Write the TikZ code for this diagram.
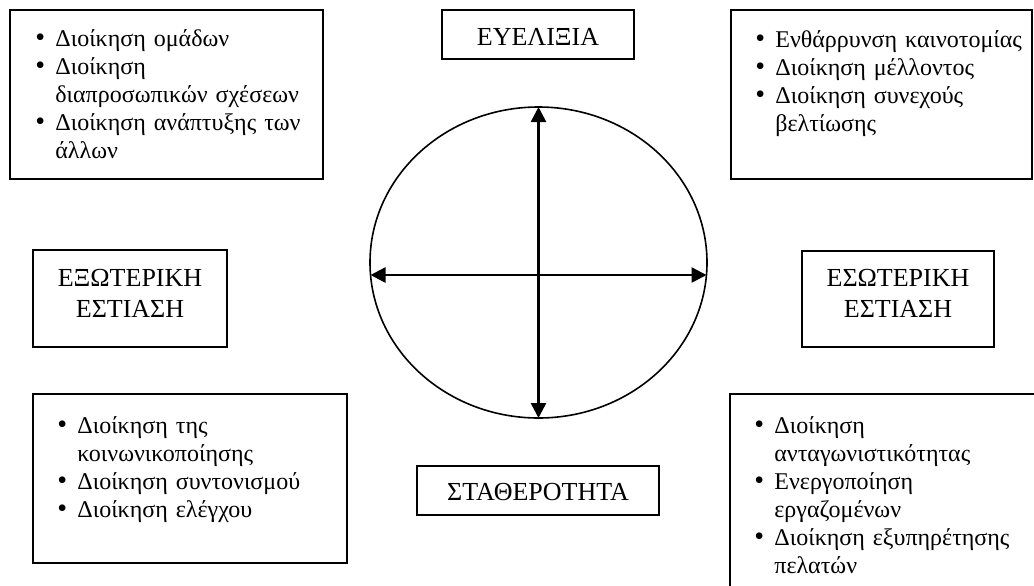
\documentclass[tikz,border=0pt]{standalone}
\usepackage{fontspec}
\setmainfont{Liberation Serif}
\usetikzlibrary{arrows.meta,shapes.geometric,fit}

% text sizes for the bullet lists and for the four orientation labels
\newcommand\txtlist{\fontsize{12}{14}\selectfont}
\newcommand\txtcap{\fontsize{13}{15.5}\selectfont}
% bullet with a fixed indent, and the matching indent for wrapped lines
\newcommand\bitem{\makebox[10pt][l]{{\fontsize{14}{14}\selectfont •}}}
\newcommand\bcont{\hspace*{10pt}}

\begin{document}
\begin{tikzpicture}[x=0.5pt,y=-0.5pt,
  frame/.style={draw, line width=0.9pt, inner sep=0pt, outer sep=0pt},
  listtext/.style={anchor=base west, inner sep=0pt, text width=150pt, align=left, font=\txtlist},
  captext/.style={anchor=base, inner sep=0pt, text width=120pt, align=center, font=\txtcap},
  axis/.style={line width=1.3pt, {Triangle[length=7.5pt,width=7.5pt]}-{Triangle[length=7.5pt,width=7.5pt]}}]
\useasboundingbox (0,0) rectangle (1034,585);
\clip (0,0) rectangle (1034,585);

% ---- central circle with the two axes
\node[draw, ellipse, line width=0.8pt, inner sep=0pt, outer sep=0pt,
      minimum width=168.5pt, minimum height=155.5pt] (ring) at (538.5,262.5) {};
\draw[axis] (ring.south) -- (ring.north);
\coordinate (hl) at (370.5,275);
\coordinate (hr) at (706.5,275);
\draw[axis] (hl) -- (hr);

% ---- orientation labels
\node[frame, fit={(442,10) (634,59)}] (flexbox) {};
\node[captext] (flex) at (538,45) {ΕΥΕΛΙΞΙΑ};

\node[frame, fit={(417,466) (659,515)}] (stabbox) {};
\node[captext] (stab) at (538,500) {ΣΤΑΘΕΡΟΤΗΤΑ};

\node[frame, fit={(33,250) (227,347)}] (extbox) {};
\node[captext] (ext) at (130,286) {ΕΞΩΤΕΡΙΚΗ\\ΕΣΤΙΑΣΗ};

\node[frame, fit={(802,251) (994,347)}] (intbox) {};
\node[captext] (int) at (898,286) {ΕΣΩΤΕΡΙΚΗ\\ΕΣΤΙΑΣΗ};

% ---- quadrant lists
\node[frame, fit={(10,10) (323,179)}] (tlbox) {};
\node[listtext] (tl) at (35,46) {\bitem Διοίκηση ομάδων\\
  \bitem Διοίκηση\\
  \bcont διαπροσωπικών σχέσεων\\
  \bitem Διοίκηση ανάπτυξης των\\
  \bcont άλλων};

\node[frame, fit={(731,10) (1032,179)}] (trbox) {};
\node[listtext] (tr) at (755,47) {\bitem Ενθάρρυνση καινοτομίας\\
  \bitem Διοίκηση μέλλοντος\\
  \bitem Διοίκηση συνεχούς\\
  \bcont βελτίωσης};

\node[frame, fit={(33,394) (347,563)}] (blbox) {};
\node[listtext] (bl) at (57,433) {\bitem Διοίκηση της\\
  \bcont κοινωνικοποίησης\\
  \bitem Διοίκηση συντονισμού\\
  \bitem Διοίκηση ελέγχου};

\node[frame, fit={(730,394) (1050,600)}] (brbox) {};
\node[listtext] (br) at (754,433) {\bitem Διοίκηση\\
  \bcont ανταγωνιστικότητας\\
  \bitem Ενεργοποίηση\\
  \bcont εργαζομένων\\
  \bitem Διοίκηση εξυπηρέτησης\\
  \bcont πελατών};
\end{tikzpicture}
\end{document}
